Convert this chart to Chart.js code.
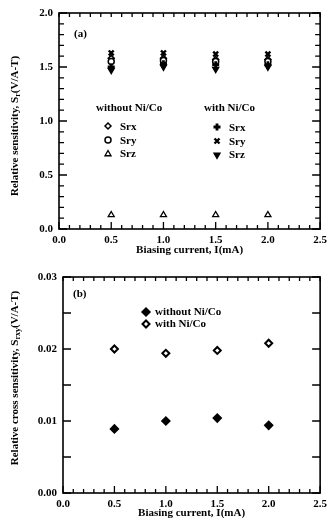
<!DOCTYPE html>
<html>
<head>
<meta charset="utf-8">
<script src="https://cdn.jsdelivr.net/npm/chart.js@4.4.0/dist/chart.umd.min.js"></script>
<style>
body { margin: 0; background: #fff; width: 332px; height: 527px; overflow: hidden; }
#wrapA { position: absolute; left: 0; top: 0; }
#wrapB { position: absolute; left: 0; top: 260px; }
</style>
</head>
<body>
<div id="wrapA"><canvas id="chartA" width="332" height="260"></canvas></div>
<div id="wrapB"><canvas id="chartB" width="332" height="267"></canvas></div>
<script>
// Datos
const currents = [0.5, 1.0, 1.5, 2.0]

// (a) without Ni/Co
const srxWithout = [1.58, 1.58, 1.57, 1.57]
const sryWithout = [1.55, 1.56, 1.55, 1.55]
const srzWithout = [0.13, 0.13, 0.13, 0.13]
// (a) with Ni/Co
const srxWith = [1.50, 1.53, 1.52, 1.52]
const sryWith = [1.63, 1.63, 1.62, 1.62]
const srzWith = [1.47, 1.50, 1.48, 1.50]

// (b) cross sensitivity
const crossWithout = [0.0089, 0.0100, 0.0104, 0.0094]
const crossWith = [0.0200, 0.0194, 0.0198, 0.0208]

const xLabelsA = ['0.0', '0.5', '1.0', '1.5', '2.0', '2.5']
const yLabelsA = ['0.0', '0.5', '1.0', '1.5', '2.0']
const yLabelsB = ['0.00', '0.01', '0.02', '0.03']

const FONT = '"Liberation Serif", "DejaVu Serif", serif'

const toPoints = (xs, ys) => xs.map((x, i) => ({ x: x, y: ys[i] }))

//Marcas de eje hacia adentro en los cuatro lados
const frameTicks = {
    id: 'frameTicks',
    afterDraw(chart, args, opts) {
        const ctx = chart.ctx
        const a = chart.chartArea
        const sx = chart.scales.x
        const sy = chart.scales.y
        ctx.save()
        ctx.strokeStyle = '#000'
        ctx.lineWidth = 1.6
        ctx.strokeRect(a.left, a.top, a.right - a.left, a.bottom - a.top)
        ctx.lineWidth = 1.3
        ctx.beginPath()
        for (let i = 0; i <= opts.xCount; i++) {
            const v = i * opts.xMinor
            const px = sx.getPixelForValue(v)
            const major = i % opts.xEvery == 0
            const lb = major ? 7 : 4
            ctx.moveTo(px, a.bottom); ctx.lineTo(px, a.bottom - lb)
            ctx.moveTo(px, a.top); ctx.lineTo(px, a.top + 4)
        }
        for (let i = 0; i <= opts.yCount; i++) {
            const v = i * opts.yMinor
            const py = sy.getPixelForValue(v)
            const major = i % opts.yEvery == 0
            const l = major ? 8 : 5
            ctx.moveTo(a.left, py); ctx.lineTo(a.left + l, py)
            ctx.moveTo(a.right, py); ctx.lineTo(a.right - l, py)
        }
        ctx.stroke()

        //Titulo del eje y con subindice
        ctx.fillStyle = '#000'
        ctx.translate(opts.titleX, opts.titleY)
        ctx.rotate(-Math.PI / 2)
        const big = 'bold 11px ' + FONT
        const small = 'bold 8px ' + FONT
        ctx.font = big
        const w1 = ctx.measureText(opts.t1).width
        const w3 = ctx.measureText(opts.t3).width
        ctx.font = small
        const w2 = ctx.measureText(opts.t2).width
        let x0 = -(w1 + w2 + w3) / 2
        ctx.textBaseline = 'middle'
        ctx.textAlign = 'left'
        ctx.font = big
        ctx.fillText(opts.t1, x0, 0)
        ctx.font = small
        ctx.fillText(opts.t2, x0 + w1, 3)
        ctx.font = big
        ctx.fillText(opts.t3, x0 + w1 + w2, 0)
        ctx.restore()
    }
}

//Leyenda y etiqueta del panel
const panelText = {
    id: 'panelText',
    afterDatasetsDraw(chart, args, opts) {
        const ctx = chart.ctx
        ctx.save()
        ctx.fillStyle = '#000'
        ctx.textBaseline = 'middle'
        ctx.textAlign = 'left'
        ctx.font = 'bold 11px ' + FONT
        ctx.fillText(opts.panel[0], opts.panel[1], opts.panel[2])
        opts.texts.forEach(t => {
            ctx.fillText(t[0], t[1], t[2])
        })
        opts.symbols.forEach(s => {
            ctx.fillStyle = s.fill
            ctx.strokeStyle = '#000'
            ctx.lineWidth = s.borderWidth
            Chart.helpers.drawPoint(ctx, {
                pointStyle: s.style, radius: s.radius, rotation: s.rotation || 0, borderWidth: s.borderWidth
            }, s.x, s.y)
        })
        ctx.restore()
    }
}

const axisX = (labels, titlePad) => ({
    type: 'linear', min: 0, max: 2.5,
    grid: { display: false, drawTicks: false },
    border: { display: false },
    ticks: {
        stepSize: 0.5, padding: 5, color: '#000',
        font: { family: FONT, size: 11, weight: 'bold' },
        callback: v => labels[Math.round(v * 2)]
    },
    title: {
        display: true, text: 'Biasing current, I(mA)', color: '#000',
        font: { family: FONT, size: 11, weight: 'bold' },
        padding: { top: 0, bottom: titlePad }
    }
})

const dsStyle = (label, data, style, radius, fill, bw, rot) => ({
    label: label, data: data, pointStyle: style, pointRadius: radius,
    pointBackgroundColor: fill, pointBorderColor: '#000', pointBorderWidth: bw,
    pointRotation: rot || 0, showLine: false
})

new Chart(document.getElementById('chartA'), {
    type: 'scatter',
    data: {
        datasets: [
            dsStyle('Srz without', toPoints(currents, srzWithout), 'triangle', 3.5, '#fff', 1.3),
            dsStyle('Srz with', toPoints(currents, srzWith), 'triangle', 3.5, '#000', 1.3, 180),
            dsStyle('Srx with', toPoints(currents, srxWith), 'cross', 3.5, '#000', 2.8),
            dsStyle('Sry without', toPoints(currents, sryWithout), 'circle', 3, '#fff', 1.5),
            dsStyle('Srx without', toPoints(currents, srxWithout), 'rectRot', 3, '#fff', 1.5),
            dsStyle('Sry with', toPoints(currents, sryWith), 'crossRot', 3.5, '#000', 2.4)
        ]
    },
    options: {
        responsive: false, animation: false, devicePixelRatio: 1,
        layout: { padding: { top: 13, right: 8, left: 0, bottom: 0 } },
        plugins: {
            legend: { display: false }, tooltip: { enabled: false },
            frameTicks: {
                xMinor: 0.1, xCount: 25, xEvery: 5, yMinor: 0.1, yCount: 20, yEvery: 5,
                titleX: 15, titleY: 126,
                t1: 'Relative sensitivity, S', t2: 'r', t3: '(V/A-T)'
            },
            panelText: {
                panel: ['(a)', 74, 34],
                texts: [
                    ['without Ni/Co', 96, 108], ['with Ni/Co', 204, 108],
                    ['Srx', 120, 127], ['Sry', 120, 141], ['Srz', 120, 154],
                    ['Srx', 229, 128], ['Sry', 229, 142], ['Srz', 229, 155]
                ],
                symbols: [
                    { style: 'rectRot', radius: 3, fill: '#fff', borderWidth: 1.5, x: 108, y: 126 },
                    { style: 'circle', radius: 3, fill: '#fff', borderWidth: 1.5, x: 108, y: 140 },
                    { style: 'triangle', radius: 3.5, fill: '#fff', borderWidth: 1.3, x: 108, y: 154 },
                    { style: 'cross', radius: 3.5, fill: '#000', borderWidth: 2.8, x: 217, y: 127 },
                    { style: 'crossRot', radius: 3.5, fill: '#000', borderWidth: 2.4, x: 217, y: 141 },
                    { style: 'triangle', radius: 3.5, fill: '#000', borderWidth: 1.3, x: 217, y: 155, rotation: 180 }
                ]
            }
        },
        scales: {
            x: Object.assign(axisX(xLabelsA, 3), { afterFit: s => { s.height = 31 } }),
            y: {
                type: 'linear', min: 0, max: 2.0,
                grid: { display: false, drawTicks: false }, border: { display: false },
                ticks: {
                    stepSize: 0.5, padding: 6, color: '#000',
                    font: { family: FONT, size: 11, weight: 'bold' },
                    callback: v => yLabelsA[Math.round(v * 2)]
                },
                afterFit: s => { s.width = 59 }
            }
        }
    },
    plugins: [frameTicks, panelText]
})

new Chart(document.getElementById('chartB'), {
    type: 'scatter',
    data: {
        datasets: [
            dsStyle('without Ni/Co', toPoints(currents, crossWithout), 'rectRot', 4, '#000', 1.5),
            dsStyle('with Ni/Co', toPoints(currents, crossWith), 'rectRot', 3.5, '#fff', 2)
        ]
    },
    options: {
        responsive: false, animation: false, devicePixelRatio: 1,
        layout: { padding: { top: 17, right: 8, left: 0, bottom: 0 } },
        plugins: {
            legend: { display: false }, tooltip: { enabled: false },
            frameTicks: {
                xMinor: 0.1, xCount: 25, xEvery: 5, yMinor: 0.005, yCount: 6, yEvery: 1,
                titleX: 15, titleY: 118,
                t1: 'Relative cross sensitivity, S', t2: 'rxy', t3: '(V/A-T)'
            },
            panelText: {
                panel: ['(b)', 73, 34],
                texts: [['without Ni/Co', 155, 52], ['with Ni/Co', 155, 64]],
                symbols: [
                    { style: 'rectRot', radius: 4, fill: '#000', borderWidth: 1.5, x: 146, y: 52 },
                    { style: 'rectRot', radius: 3.5, fill: '#fff', borderWidth: 2, x: 146, y: 64 }
                ]
            }
        },
        scales: {
            x: Object.assign(axisX(xLabelsA, 7), { afterFit: s => { s.height = 34 } }),
            y: {
                type: 'linear', min: 0, max: 0.03,
                grid: { display: false, drawTicks: false }, border: { display: false },
                ticks: {
                    stepSize: 0.01, padding: 6, color: '#000',
                    font: { family: FONT, size: 11, weight: 'bold' },
                    callback: v => yLabelsB[Math.round(v * 100)]
                },
                afterFit: s => { s.width = 63 }
            }
        }
    },
    plugins: [frameTicks, panelText]
})
</script>
</body>
</html>
